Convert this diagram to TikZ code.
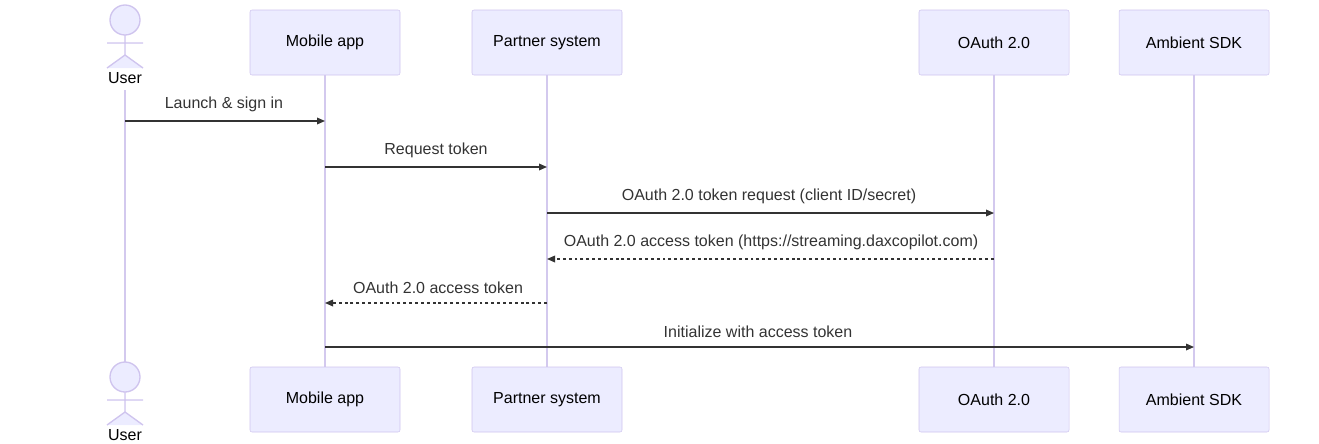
\documentclass[tikz,border=0pt]{standalone}
\usepackage{fontspec}
\setmainfont{Liberation Sans}
\usetikzlibrary{arrows.meta}
\definecolor{boxfill}{HTML}{ECECFF}
\definecolor{boxline}{HTML}{CFC4EE}
\definecolor{lifeline}{HTML}{D3C9EE}
\definecolor{ink}{HTML}{333333}
\tikzset{
  part/.style={draw=boxline, fill=boxfill, rounded corners=1.5pt, minimum width=150*0.75pt, minimum height=65*0.75pt, inner sep=0pt, text=black, font=\fontsize{12}{14}\selectfont},
  life/.style={draw=lifeline, line width=1pt},
  msg/.style={draw=ink, line width=0.9pt, -{Triangle[length=6pt,width=5pt]}},
  reply/.style={msg, dash pattern=on 2.2pt off 2.2pt},
  lbl/.style={text=ink, font=\fontsize{12}{14}\selectfont, inner sep=0pt},
  actorline/.style={draw=boxline, fill=boxfill, line width=1pt}
}
\newcommand{\stickman}[3]{% name, x, y of head centre
  \draw[actorline] (#2,#3) circle (15);
  \draw[actorline] (#2,#3+15) -- (#2,#3+35) (#2-18,#3+23) -- (#2+18,#3+23)
    (#2-18,#3+48) -- (#2,#3+35) -- (#2+18,#3+48);
  \node[lbl, text=black] (#1) at (#2,#3+58) {User};
}
\begin{document}
\begin{tikzpicture}[x=0.75pt, y=-0.75pt]
\useasboundingbox (0,0) rectangle (1319,443);
% lifelines
\foreach \x/\a/\b in {125/90/362, 325/75/367, 547/75/367, 994/75/367, 1194/75/367}
  \draw[life] (\x,\a) -- (\x,\b);
% participants
\stickman{usertop}{125}{20}
\stickman{userbot}{125}{377}
\node[part] (app) at (325,42.5) {Mobile app};
\node[part] (partner) at (547,42.5) {Partner system};
\node[part] (oauth) at (994,42.5) {OAuth 2.0};
\node[part] (sdk) at (1194,42.5) {Ambient SDK};
\node[part] (appb) at (325,399.5) {Mobile app};
\node[part] (partnerb) at (547,399.5) {Partner system};
\node[part] (oauthb) at (994,399.5) {OAuth 2.0};
\node[part] (sdkb) at (1194,399.5) {Ambient SDK};
% messages
\coordinate (m1a) at (125,121); \coordinate (m1b) at (325,121);
\coordinate (m2a) at (325,167); \coordinate (m2b) at (547,167);
\coordinate (m3a) at (547,213); \coordinate (m3b) at (994,213);
\coordinate (m4a) at (994,259); \coordinate (m4b) at (547,259);
\coordinate (m5a) at (547,303); \coordinate (m5b) at (325,303);
\coordinate (m6a) at (325,347); \coordinate (m6b) at (1194,347);
\draw[msg] (m1a) -- (m1b);
\draw[msg] (m2a) -- (m2b);
\draw[msg] (m3a) -- (m3b);
\draw[reply] (m4a) -- (m4b);
\draw[reply] (m5a) -- (m5b);
\draw[msg] (m6a) -- (m6b);
\node[lbl] at (224,104) {Launch \& sign in};
\node[lbl] at (436,150) {Request token};
\node[lbl] at (769,196) {OAuth 2.0 token request (client ID/secret)};
\node[lbl] at (771,242) {OAuth 2.0 access token (https://streaming.daxcopilot.com)};
\node[lbl] at (438,288) {OAuth 2.0 access token};
\node[lbl] at (758,332) {Initialize with access token};
\end{tikzpicture}
\end{document}
